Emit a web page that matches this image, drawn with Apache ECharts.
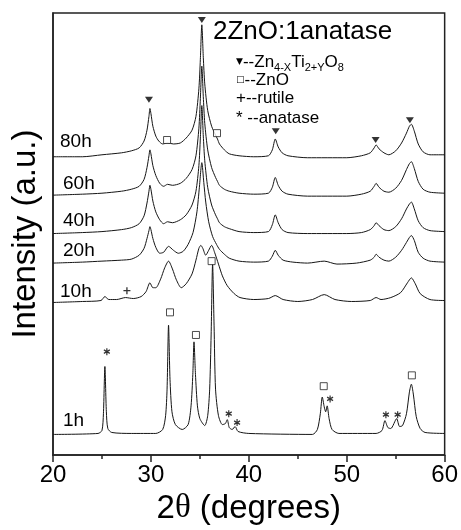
<!DOCTYPE html>
<html>
<head>
<meta charset="utf-8">
<script src="https://cdn.jsdelivr.net/npm/echarts@6/dist/echarts.min.js"></script>
<style>
  html, body { margin: 0; padding: 0; background: #fff; }
  #chart { width: 461px; height: 530px; }
</style>
</head>
<body>
<div id="chart"></div>
<script>
// curves: [2theta, intensity (a.u., stacked offset included)]
const h80 = [[20,303],[23,303],[25,305],[27,307],[28,309],[28.8,312],[29.3,319],[29.6,330],[29.8,344],[29.9,352],[30,347],[30.2,334],[30.5,324],[30.8,319],[31.2,316],[31.7,317],[32.3,316],[33,317],[33.6,322],[34.2,330],[34.6,344],[34.9,372],[35.05,402],[35.2,437],[35.35,404],[35.5,377],[35.8,350],[36.2,334],[36.6,325],[36.8,321],[37,316],[37.5,310],[38,306],[39,304],[40.5,303],[42,304],[42.4,310],[42.7,321],[43,313],[43.4,307],[44,304],[46,302],[50,302],[51.5,304],[52.4,307],[52.8,312],[53,315],[53.3,311],[53.8,307],[54.3,305],[55,309],[55.6,317],[56.1,327],[56.4,334],[56.6,336],[56.9,329],[57.3,316],[57.8,308],[58.5,305],[60,305]];
const h60 = [[20,264],[23,265],[25,266],[27,268],[28,270],[28.8,273],[29.3,280],[29.6,292],[29.8,304],[29.9,310],[30,306],[30.2,294],[30.5,284],[30.9,276],[31.3,273],[31.7,275],[32.2,274],[33,276],[33.6,281],[34.2,290],[34.6,304],[34.9,332],[35.05,362],[35.2,395],[35.35,364],[35.5,337],[35.8,310],[36.2,292],[36.6,282],[36.8,278],[37,274],[37.5,270],[38,268],[39,266],[40.5,265],[42,266],[42.4,272],[42.7,282],[43,274],[43.4,268],[44,265],[46,263],[50,263],[51.5,265],[52.4,268],[52.8,273],[53,276],[53.3,272],[53.8,268],[54.3,267],[55,271],[55.6,279],[56.1,290],[56.4,296],[56.6,298],[56.9,291],[57.3,278],[57.8,270],[58.5,267],[60,266]];
const h40 = [[20,225],[23,226],[25,227],[27,229],[28,231],[28.8,235],[29.3,243],[29.6,256],[29.8,268],[29.9,274],[30,270],[30.2,258],[30.5,247],[30.9,239],[31.3,235],[31.7,237],[32.2,236],[33,239],[33.6,244],[34.2,254],[34.6,268],[34.9,294],[35.05,322],[35.2,355],[35.35,324],[35.5,299],[35.8,272],[36.2,254],[36.6,244],[36.8,240],[37,236],[37.5,232],[38,230],[39,227],[40.5,226],[42,227],[42.4,234],[42.7,244],[43,236],[43.4,229],[44,226],[46,225],[50,225],[51.5,226],[52.4,229],[52.8,233],[53,236],[53.3,233],[53.8,229],[54.3,228],[55,232],[55.6,240],[56.1,250],[56.4,255],[56.6,257],[56.9,250],[57.3,238],[57.8,231],[58.5,228],[60,227]];
const h20 = [[20,195],[23,196],[25,197],[27,198],[28,199],[28.8,203],[29.3,210],[29.6,220],[29.8,228],[29.9,232],[30,229],[30.2,220],[30.5,211],[30.9,205],[31.3,206],[31.8,212],[32.3,208],[32.8,205],[33.3,207],[33.8,214],[34.3,226],[34.7,247],[34.95,272],[35.2,297],[35.4,277],[35.6,257],[35.9,237],[36.3,222],[36.7,214],[37,209],[37.5,204],[38,200],[39,197],[40.5,196],[42,197],[42.4,202],[42.7,208],[43,203],[43.5,198],[44.5,196],[46,195],[47.7,197],[49,194],[51,195],[52.4,198],[52.8,201],[53,204],[53.3,201],[53.8,198],[54.3,197],[55,201],[55.6,208],[56.1,216],[56.4,221],[56.6,223],[56.9,218],[57.3,206],[57.8,200],[58.5,197],[60,196]];
const h10 = [[20,155],[23,156],[24.9,157],[25.3,161],[25.7,158],[26.5,158],[27.4,160],[28.2,159],[29,161],[29.5,166],[29.9,175],[30.2,170],[30.5,170],[31,179],[31.4,190],[31.8,197],[32.2,189],[32.6,178],[33.1,170],[33.6,174],[34.2,184],[34.6,198],[34.9,210],[35.1,213],[35.3,210],[35.6,203],[35.9,208],[36.2,213],[36.5,206],[36.9,194],[37.3,182],[37.8,172],[38.5,164],[39.1,160],[40.5,158],[42,159],[42.7,162],[43.5,158],[45,156],[46.5,158],[47.7,163],[48.8,158],[50.5,156],[52.4,157],[53,160],[53.5,158],[54.5,160],[55.5,165],[56.2,175],[56.6,180],[57,174],[57.5,164],[58.5,158],[60,157]];
const h1 = [[20,21],[24.6,22],[25,25],[25.15,42],[25.3,90],[25.45,44],[25.6,27],[26,23],[28,22],[30.5,22],[31.2,26],[31.5,40],[31.65,67],[31.8,132],[31.95,77],[32.15,44],[32.5,31],[33.2,26],[33.8,31],[34.1,50],[34.28,82],[34.4,115],[34.55,82],[34.75,50],[35,37],[35.5,30],[35.8,40],[36,67],[36.15,122],[36.3,194],[36.45,132],[36.6,67],[36.9,40],[37.3,31],[37.6,32],[37.8,36],[38,28],[38.3,26],[38.6,29],[38.9,24],[40,22],[46.5,21],[47,26],[47.3,42],[47.5,59],[47.7,49],[47.85,44],[48,50],[48.2,37],[48.5,26],[49.2,22],[53,22],[53.6,25],[53.9,35],[54.2,28],[54.5,27],[55.1,37],[55.4,29],[55.7,30],[56.1,42],[56.4,64],[56.6,72],[56.8,62],[57.1,39],[57.5,27],[58,23],[60,22]];

const curveNames = ['80h', '60h', '40h', '20h', '10h', '1h'];
const curves = [h80, h60, h40, h20, h10, h1];

// phase markers
const znTiPeaks = [[29.8,361],[35.2,442],[42.75,329],[52.95,320],[56.45,340]];
const znoPeaks = [[31.65,320],[36.75,327],[31.95,145],[34.6,122],[36.2,197],[47.65,70],[56.65,81]];
const rutilePeaks = [[27.55,167]];
const anatasePeaks = [[25.5,105],[37.95,42],[38.8,33],[48.3,57],[54.0,41],[55.2,41]];

const xTicks = [20, 30, 40, 50, 60];

const FONT = '"Liberation Sans", Arial, sans-serif';

let myChart = echarts.init(document.getElementById('chart'));

let series = [];
curves.forEach(function (d, i) {
    series.push({
        name: curveNames[i],
        type: 'line',
        data: d,
        showSymbol: false,
        smooth: 0.25,
        silent: true,
        lineStyle: { color: '#151515', width: 1 },
        z: 2
    });
});
series.push({
    type: 'scatter', data: znTiPeaks, symbol: 'triangle', symbolRotate: 180,
    symbolSize: [8, 6], itemStyle: { color: '#000' }, silent: true, z: 5
});
series.push({
    type: 'scatter', data: znoPeaks, symbol: 'rect', symbolSize: 7,
    itemStyle: { color: '#fff', borderColor: '#222', borderWidth: 1 }, silent: true, z: 5
});
series.push({
    type: 'scatter', data: rutilePeaks, symbol: 'path://M0,-1L0,1M-1,0L1,0', symbolSize: 7,
    itemStyle: { color: 'none', borderColor: '#000', borderWidth: 1.3 }, silent: true, z: 5
});
series.push({
    type: 'scatter', data: anatasePeaks, symbol: 'path://M0,-1L0,1M-0.87,-0.5L0.87,0.5M-0.87,0.5L0.87,-0.5',
    symbolSize: [6, 7], itemStyle: { color: 'none', borderColor: '#000', borderWidth: 1.3 }, silent: true, z: 5
});

// curve labels
const labelPos = [[60,143],[63,185],[63,222],[63,252],[60,293],[63,422]];
let graphics = [];
curveNames.forEach(function (n, i) {
    graphics.push({
        type: 'text', left: labelPos[i][0], top: labelPos[i][1] - 11,
        style: { text: n, fill: '#000', font: '19px ' + FONT }
    });
});

const sub = { fontSize: 11, fontFamily: FONT, lineHeight: 12, verticalAlign: 'bottom', fill: '#000' };
const norm = { fontSize: 17, fontFamily: FONT, lineHeight: 22, fill: '#000' };
const sym = { fontSize: 9, fontFamily: '"DejaVu Sans"', lineHeight: 22, fill: '#000' };

graphics.push({
    type: 'text', x: 213, y: 32,
    style: { text: '2ZnO:1anatase', fill: '#000', font: '26px ' + FONT, verticalAlign: 'middle' }
});
graphics.push({
    type: 'text', x: 236, y: 62,
    style: {
        text: '{sym|▼}{n|--Zn}{s|4-X}{n|Ti}{s|2+Y}{n|O}{s|8}',
        verticalAlign: 'middle',
        rich: { sym: sym, n: norm, s: sub }
    }
});
graphics.push({
    type: 'text', x: 236, y: 80,
    style: { text: '{sym|□}{n|--ZnO}', verticalAlign: 'middle', rich: { sym: sym, n: norm } }
});
graphics.push({
    type: 'text', x: 236, y: 98,
    style: { text: '{n|+--rutile}', verticalAlign: 'middle', rich: { n: norm } }
});
graphics.push({
    type: 'text', x: 236, y: 118,
    style: { text: '{n|* --anatase}', verticalAlign: 'middle', rich: { n: norm } }
});

let option = {
    animation: false,
    backgroundColor: '#fff',
    grid: {
        left: 53, right: 15, top: 13, bottom: 68,
        show: true, borderColor: '#222', borderWidth: 1.5
    },
    xAxis: {
        type: 'value',
        min: xTicks[0], max: xTicks[xTicks.length - 1], interval: 10,
        name: '2{t|θ} (degrees)',
        nameLocation: 'middle', nameGap: 30,
        nameTextStyle: {
            fontSize: 33, fontFamily: FONT, color: '#000',
            rich: { t: { fontSize: 33, fontFamily: '"Liberation Serif", serif', color: '#000' } }
        },
        axisLine: { show: true, lineStyle: { color: '#222', width: 1.5 } },
        axisTick: { show: true, inside: false, length: 7, lineStyle: { color: '#222', width: 1.5 } },
        minorTick: { show: true, splitNumber: 2, length: 4, lineStyle: { color: '#222', width: 1.5 } },
        axisLabel: { fontSize: 24, fontFamily: FONT, color: '#000', margin: 8 },
        splitLine: { show: false }
    },
    yAxis: {
        type: 'value', min: 0, max: 449,
        name: 'Intensity (a.u.)',
        nameLocation: 'middle', nameGap: 11, nameRotate: 90,
        nameTextStyle: { fontSize: 33, fontFamily: FONT, color: '#000' },
        axisLine: { show: true, lineStyle: { color: '#222', width: 1.5 } },
        axisTick: { show: false },
        axisLabel: { show: false },
        splitLine: { show: false }
    },
    graphic: graphics,
    series: series
};

myChart.setOption(option);
</script>
</body>
</html>
